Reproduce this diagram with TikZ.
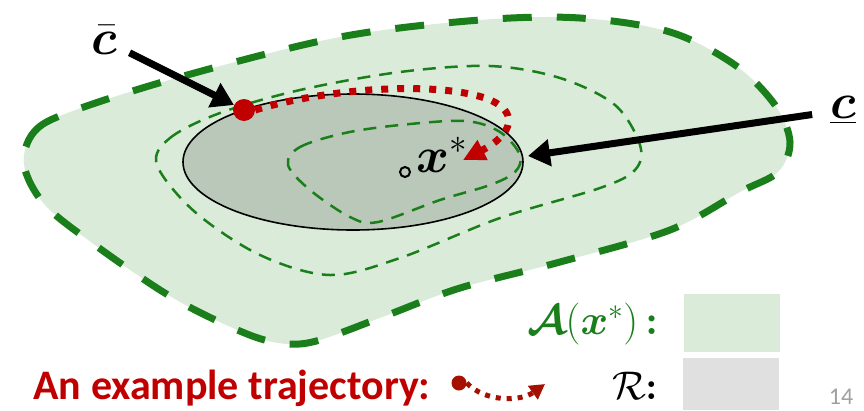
\RequirePackage{fix-cm}
\documentclass[tikz,border=0pt]{standalone}
\usepackage{fontspec}
\usepackage{amsmath}
\usepackage{bm}
\newfontfamily\calib{Carlito}
\usetikzlibrary{arrows.meta, positioning}
\definecolor{regfill}{HTML}{DAEBDA}
\definecolor{regline}{HTML}{1A7F1A}
\definecolor{rfill}{HTML}{B9C8B8}
\definecolor{trajred}{HTML}{C00000}
\definecolor{legred}{HTML}{A51000}
\definecolor{boxgray}{HTML}{E0E0E0}

\tikzset{
  outerdash/.style={draw=regline, fill=regfill, line width=7pt, dash pattern=on 29pt off 25pt},
  innerdash/.style={draw=regline, line width=2.5pt, dash pattern=on 13pt off 9pt},
  bigarrow/.style={line width=7pt, -{Triangle[length=22pt,width=26pt]}},
  trajline/.style={trajred, line width=7pt, dash pattern=on 7pt off 9pt, -{Triangle[length=22pt,width=21pt]}},
  legline/.style={legred, line width=5pt, dash pattern=on 5pt off 6pt, -{Triangle[length=15pt,width=16pt]}},
  reddot/.style={circle, fill=trajred, inner sep=0pt, minimum size=22pt},
  mathbig/.style={inner sep=0pt, font=\fontsize{50}{60}\selectfont},
  legbox/.style={inner sep=0pt, minimum width=96pt},
}

\begin{document}
\begin{tikzpicture}[x=1pt, y=-1pt]
\useasboundingbox (0,0) rectangle (864,410);
% region A(x*)
\path[outerdash] plot[smooth cycle, tension=0.55] coordinates {
  (24,165) (34,132) (70,112) (180,77) (340,37) (480,20) (580,18) (670,32)
  (735,65) (775,105) (790,142) (778,172) (740,192) (670,230) (560,262)
  (460,288) (385,316) (320,340) (288,344) (255,337) (205,315) (160,290)
  (95,245) (45,205)};
% region R
\draw[fill=rfill, line width=1.6pt] (353,162) ellipse [x radius=170, y radius=68];
% level sets
\draw[innerdash] plot[smooth cycle, tension=0.55] coordinates {
  (157,165) (170,138) (220,113) (300,90) (400,72) (490,66) (560,78)
  (615,105) (640,145) (635,170) (600,188) (500,218) (400,258) (330,275)
  (260,255) (195,212)};
\draw[innerdash] plot[smooth cycle, tension=0.55] coordinates {
  (288,165) (300,147) (345,133) (400,125) (465,121) (500,132) (520,155)
  (515,172) (490,185) (440,200) (378,222) (350,217) (310,190)};

% optimum
\node[circle, draw, line width=2pt, inner sep=0pt, minimum size=10pt] (xopt) at (405,172) {};
\node[mathbig, anchor=base west] (xlabel) at (416,172) {$\bm{x}^{*}$};

% trajectory
\node[reddot] (cstart) at (244,110) {};
\coordinate (tend) at (463,160);
\draw[trajline] (cstart.east) .. controls (320,90) and (430,80) .. (485,98)
  .. controls (520,110) and (514,134) .. (tend);

% corner points
\node[mathbig] (cbar) at (104,40) {$\bar{\bm{c}}$};
\draw[bigarrow, shorten <=14pt] (cbar) -- (cstart);
\node[mathbig] (cunder) at (843,110) {$\underline{\bm{c}}$};
\coordinate (rtouch) at (528,156);
\draw[bigarrow, shorten <=18pt] (cunder) -- (rtouch);

% legend
\node[legbox, fill=regfill, minimum height=58pt] (abox) at (732,323) {};
\node[legbox, fill=boxgray, minimum height=52pt] (rbox) at (731,384) {};
\node[anchor=east, text=regline, font=\fontsize{42}{48}\selectfont] (alabel) at (662,324)
  {$\bm{\mathcal{A}}(\bm{x}^{*})$\,\textbf{:}};
\node[anchor=east, font=\fontsize{40}{46}\selectfont] (rlabel) at (662,386)
  {$\mathcal{R}$\textbf{:}};
\node[anchor=base west, text=trajred, font=\calib\bfseries\fontsize{42}{50}\selectfont] (trajtext) at (30,399)
  {An example trajectory:};
\node[circle, fill=legred, inner sep=0pt, minimum size=15pt] (legdot) at (459,383) {};
\coordinate (legend) at (545,384);
\draw[legline] (legdot.east) .. controls (485,402) and (520,402) .. (legend);
\node[text=gray!75, font=\calib\fontsize{24}{28}\selectfont] (pagenum) at (841,397) {14};
\end{tikzpicture}
\end{document}
